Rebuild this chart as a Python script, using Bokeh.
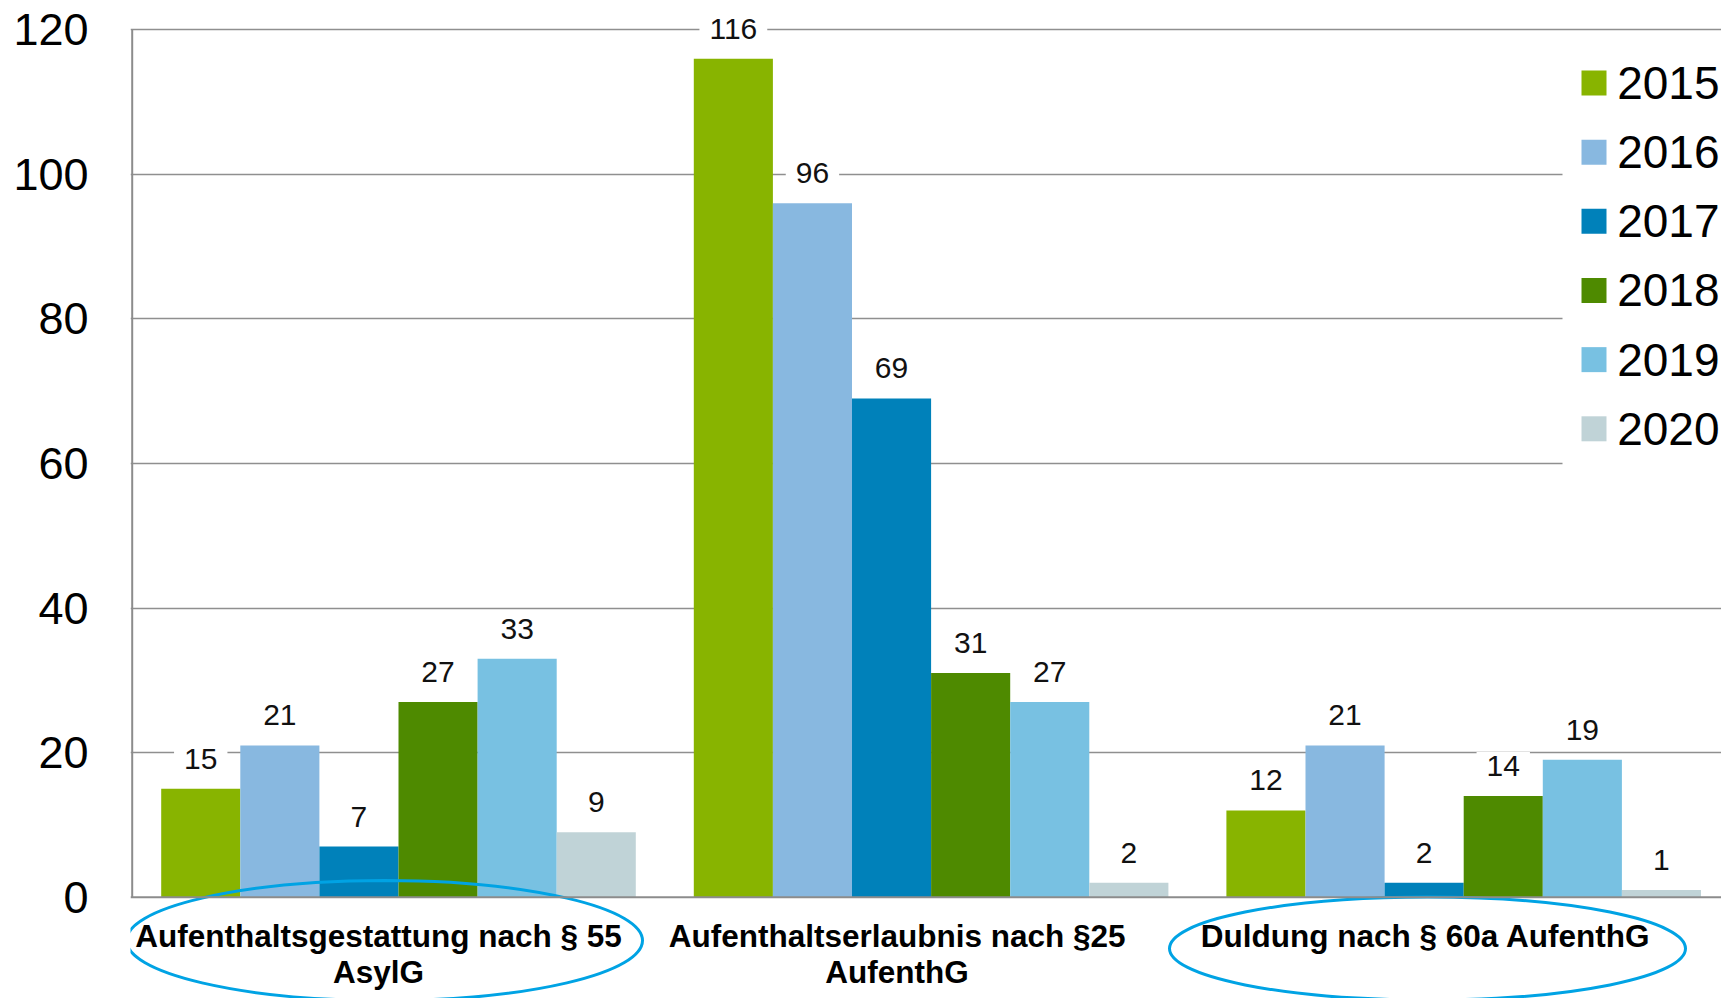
from bokeh.plotting import figure
from bokeh.models import Range1d, FixedTicker, Span, ColumnDataSource
from bokeh.core.properties import value
from bokeh.embed import file_html
from bokeh.resources import INLINE

# ---------------- data ----------------
categories = [
    "Aufenthaltsgestattung nach § 55\nAsylG",
    "Aufenthaltserlaubnis nach §25\nAufenthG",
    "Duldung nach § 60a AufenthG",
]
years = ["2015", "2016", "2017", "2018", "2019", "2020"]
v2015 = [15, 116, 12]
v2016 = [21, 96, 21]
v2017 = [7, 69, 2]
v2018 = [27, 31, 14]
v2019 = [33, 27, 19]
v2020 = [9, 2, 1]
series = [v2015, v2016, v2017, v2018, v2019, v2020]
colors = ["#88B400", "#88B8E0", "#0081BA", "#4E8A00", "#78C1E2", "#C0D3D7"]
y_ticks = [0, 20, 40, 60, 80, 100, 120]

# ---------------- layout (pixels) ----------------
W, H = 1721, 998
BORDER_LEFT = 130
FRAME_L, FRAME_R, FRAME_T, FRAME_B = BORDER_LEFT, W, 0, H
AXIS_X = 131.7          # x of the value axis
Y0 = 896.7              # y of value 0
PX_CAT = 532.6          # px per category slot
PX_Y = (896.7 - 29.3) / 120.0
BAR_W = 79.1 / PX_CAT

def dx(px):
    return (px - AXIS_X) / PX_CAT

def dy(py):
    return (Y0 - py) / PX_Y

FONT = value("Liberation Sans")

p = figure(width=W, height=H, output_backend="svg", toolbar_location=None,
           x_range=Range1d(dx(FRAME_L), dx(FRAME_R)),
           y_range=Range1d(dy(FRAME_B), dy(FRAME_T)),
           x_axis_location=None, min_border_left=BORDER_LEFT,
           min_border_right=0, min_border_top=0, min_border_bottom=0)
p.outline_line_color = None
p.background_fill_color = "white"
p.border_fill_color = "white"

# grid
p.xgrid.visible = False
p.ygrid.ticker = FixedTicker(ticks=y_ticks[1:])
p.ygrid.grid_line_color = "#8f8f8f"
p.ygrid.grid_line_width = 1.6

# y axis
ax = p.yaxis[0]
ax.ticker = FixedTicker(ticks=y_ticks)
ax.axis_line_color = None
ax.major_tick_line_color = None
ax.minor_tick_line_color = None
ax.major_tick_out = 0
ax.major_label_standoff = 42
ax.major_label_text_font = "Liberation Sans"
ax.major_label_text_font_size = "45px"
ax.major_label_text_color = "#000000"

# legend background (white box that hides the grid lines)
p.quad(left=[dx(1562)], right=[dx(W + 5)], top=[dy(40)], bottom=[dy(475)],
       fill_color="white", line_color=None)

# bars + value labels
for j, (yr, vals, col) in enumerate(zip(years, series, colors)):
    xs = [g + 0.5 + (j - 2.5) * BAR_W for g in range(len(categories))]
    src = ColumnDataSource(dict(x=xs, top=vals, lab=[str(v) for v in vals]))
    p.vbar(x="x", top="top", bottom=0, width=BAR_W, source=src,
           fill_color=col, line_color=None)
    p.text(x="x", y="top", text="lab", source=src, text_align="center",
           text_baseline="middle", y_offset=-30, text_font=FONT,
           text_font_size="30px", text_color="#111111",
           background_fill_color="white",
           padding=dict(left=10, right=10, top=4, bottom=4))

# axis lines
p.add_layout(Span(location=0, dimension="width", line_color="#8c8c8c", line_width=2))
p.segment(x0=[0], y0=[0], x1=[0], y1=[y_ticks[-1]], line_color="#8c8c8c", line_width=2)

# category labels (below the axis)
label_shift = [-20, -34, -38]
cx, cy, ct, cxo, cyo = [], [], [], [], []
for g, name in enumerate(categories):
    for k, line in enumerate(name.split("\n")):
        cx.append(g + 0.5)
        cy.append(0)
        ct.append(line)
        cxo.append(label_shift[g])
        cyo.append(39 + k * 36)
p.text(x=cx, y=cy, text=ct, x_offset=cxo, y_offset=cyo, text_align="center",
       text_baseline="middle", text_font=FONT, text_font_size="31.5px",
       text_font_style="bold", text_color="#000000")

# highlight ellipses
p.ellipse(x=[dx(384), dx(1427)], y=[dy(940), dy(948)], width=[516, 516],
          height=[120, 103], width_units="screen", height_units="screen",
          fill_color=None, line_color="#00A3E4", line_width=3)

# legend (squares + labels)
ROW0, ROW_PITCH = 82.5, 69.16
ly = [dy(ROW0 + i * ROW_PITCH) for i in range(len(years))]
p.rect(x=[dx(1593.5)] * len(years), y=ly, width=25, height=25,
       width_units="screen", height_units="screen",
       fill_color=colors, line_color=None)
p.text(x=[dx(1616.7)] * len(years), y=ly, text=years, text_align="left",
       text_baseline="middle", text_font=FONT, text_font_size="46px",
       text_color="#000000")

open("out.html", "w").write(file_html(p, INLINE))
